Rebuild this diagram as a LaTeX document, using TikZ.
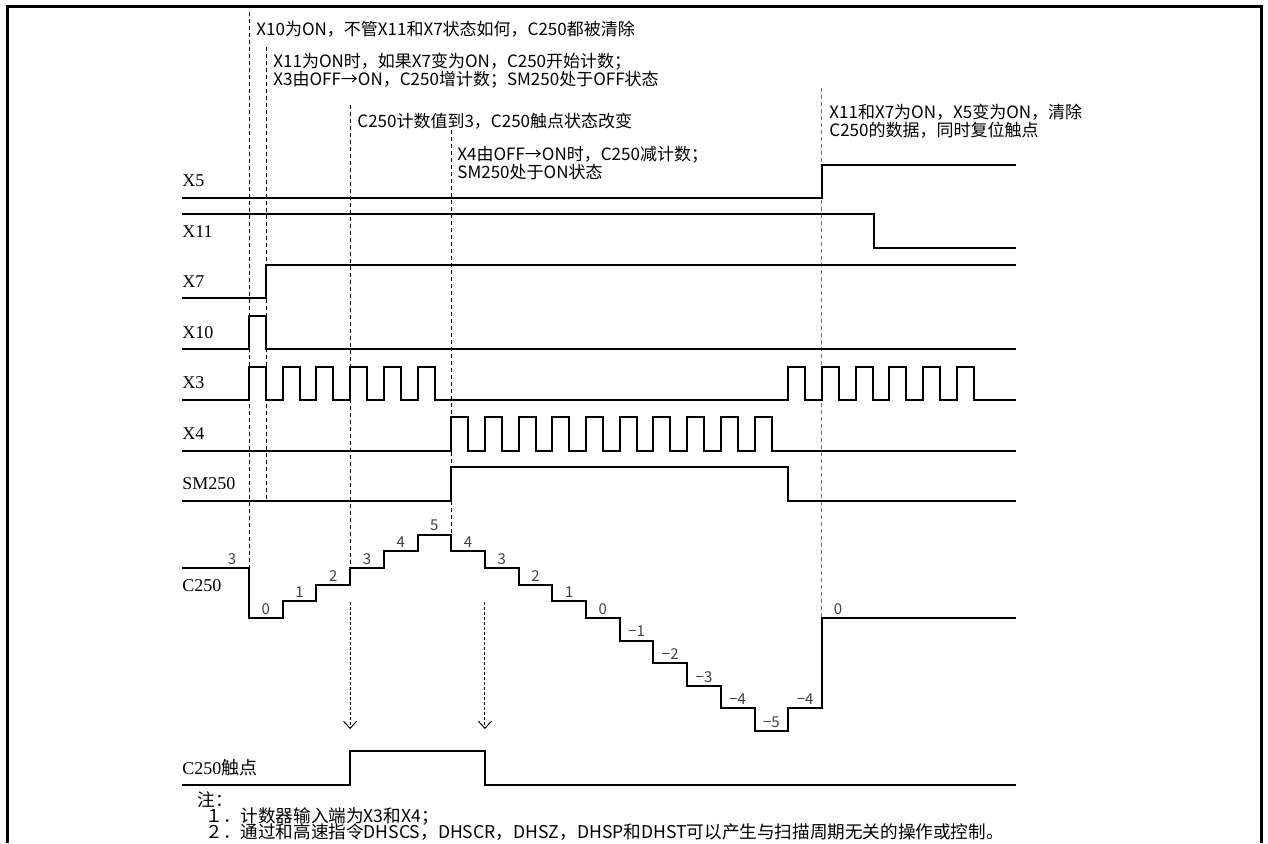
\documentclass[tikz,border=0pt]{standalone}
\usepackage{fontspec}
\setmainfont{Liberation Serif}
\newfontfamily\cjk{Noto Sans CJK SC}
\usetikzlibrary{arrows.meta}

\begin{document}
\begin{tikzpicture}[
	x=0.5pt, y=-0.5pt,
	line join=miter,
	wave/.style={line width=1pt},
	guide/.style={line width=0.5pt, dash pattern=on 2pt off 1.5pt},
	signame/.style={anchor=west, inner sep=0pt, font=\fontsize{9}{9}\selectfont},
	remark/.style={anchor=west, inner sep=0pt, align=left, font=\cjk\fontsize{8.5}{9}\selectfont},
	note/.style={anchor=west, inner sep=0pt, font=\cjk\fontsize{8.8}{9}\selectfont},
	count/.style={inner sep=0pt, text=black!75, font=\cjk\fontsize{7.5}{7.5}\selectfont}
	]
	
	\useasboundingbox (0,0) rectangle (1268,843);
	
	% frame
	\draw[line width=1.5pt] (7,843) -- (7,6) -- (1261,6) -- (1261,843);
	
	% signal names
	\node[signame] (nX5) at (182,181) {X5};
	\node[signame] (nX11) at (182,232) {X11};
	\node[signame] (nX7) at (182,282) {X7};
	\node[signame] (nX10) at (182,333) {X10};
	\node[signame] (nX3) at (182,383) {X3};
	\node[signame] (nX4) at (182,434) {X4};
	\node[signame] (nSM) at (182,484) {SM250};
	\node[signame] (nC) at (182,586) {C250};
	\node[signame] (nCK) at (182,768) {C250{\cjk 触点}};
	
	% guide lines
	\draw[guide] (249,12) -- (249,568);
	\draw[guide] (266,47) -- (266,501);
	\draw[guide] (350.1,105) -- (350.1,568);
	\draw[guide] (451.2,130) -- (451.2,534.5);
	\draw[guide, black!55] (821.9,88) -- (821.9,618);
	
	% remarks
	\node[remark] (r1) at (256,29) {X10为ON，不管X11和X7状态如何，C250都被清除};
	\node[remark] (r2) at (273,71) {X11为ON时，如果X7变为ON，C250开始计数；\\X3由OFF→ON，C250增计数；SM250处于OFF状态};
	\node[remark] (r3) at (357,121) {C250计数值到3，C250触点状态改变};
	\node[remark] (r4) at (457,163) {X4由OFF→ON时，C250减计数；\\SM250处于ON状态};
	\node[remark] (r5) at (829,121) {X11和X7为ON，X5变为ON，清除\\C250的数据，同时复位触点};
	
	% waves
	\draw[wave] (182,198) -- (821.9,198) -- (821.9,165) -- (1016,165);
	\draw[wave] (182,214) -- (874,214) -- (874,248) -- (1016,248);
	\draw[wave] (182,298) -- (266,298) -- (266,265) -- (1016,265);
	\draw[wave] (182,349) -- (249,349) -- (249,316) -- (266,316) -- (266,349) -- (1016,349);
	\draw[wave] (182,400)
		foreach \n in {0,...,5} { -- ({249+33.7*\n},400) -- ++(0,-33) -- ++(17,0) -- ++(0,33) }
		foreach \n in {16,...,21} { -- ({249+33.7*\n},400) -- ++(0,-33) -- ++(17,0) -- ++(0,33) }
		-- (1016,400);
	\draw[wave] (182,451)
		foreach \n in {6,...,15} { -- ({249+33.7*\n},451) -- ++(0,-34) -- ++(17,0) -- ++(0,34) }
		-- (1016,451);
	\draw[wave] (182,501) -- (451.2,501) -- (451.2,467) -- (788.2,467) -- (788.2,501) -- (1016,501);
	
	% C250 count
	\draw[wave] (182,568) -- (249,568) -- (249,618) -- (282.7,618) -- (282.7,601.3)
		-- (316.4,601.3) -- (316.4,584.6) -- (350.1,584.6) -- (350.1,568) -- (383.8,568)
		-- (383.8,551.2) -- (417.5,551.2) -- (417.5,534.5) -- (451.2,534.5) -- (451.2,551.2)
		-- (484.9,551.2) -- (484.9,568) -- (518.6,568) -- (518.6,584.6) -- (552.3,584.6)
		-- (552.3,601.3) -- (586,601.3) -- (586,618) -- (619.7,618) -- (619.7,640.6)
		-- (653.4,640.6) -- (653.4,663.2) -- (687.1,663.2) -- (687.1,685.8) -- (720.8,685.8)
		-- (720.8,708.4) -- (754.5,708.4) -- (754.5,731) -- (788.2,731) -- (788.2,708.4)
		-- (821.9,708.4) -- (821.9,618) -- (1016,618);
	
	\foreach \cx/\cy/\cv [count=\i] in {232/559/3, 265.9/609/0, 299.6/592.3/1, 333.3/575.6/2,
		367/559/3, 400.7/542.2/4, 434.4/525.5/5, 468.1/542.2/4, 501.8/559/3, 535.5/575.6/2,
		569.2/592.3/1, 602.9/609/0, 636.6/631.6/−1, 670.3/654.2/−2, 704/676.8/−3,
		737.7/699.4/−4, 771.4/722/−5, 805.1/699.4/−4, 838/609/0}
		\node[count] (v\i) at (\cx,\cy) {\cv};
	
	% contact
	\coordinate (a1) at (350.1,602);
	\coordinate (a1e) at (350.1,729);
	\coordinate (a2) at (484.9,602);
	\coordinate (a2e) at (484.9,729);
	\draw[line width=0.5pt, dash pattern=on 1.5pt off 1pt, -{Straight Barb[length=3.5pt, width=6.5pt]}] (a1) -- (a1e);
	\draw[line width=0.5pt, dash pattern=on 1.5pt off 1pt, -{Straight Barb[length=3.5pt, width=6.5pt]}] (a2) -- (a2e);
	\draw[wave] (182,785) -- (350.1,785) -- (350.1,751) -- (484.9,751) -- (484.9,785) -- (1016,785);
	
	% notes
	\node[note] (m0) at (197,800) {注：};
	\node[note] (m1) at (205,816) {１．计数器输入端为X3和X4；};
	\node[note] (m2) at (205,832) {２．通过和高速指令DHSCS，DHSCR，DHSZ，DHSP和DHST可以产生与扫描周期无关的操作或控制。};
	
\end{tikzpicture}
\end{document}
